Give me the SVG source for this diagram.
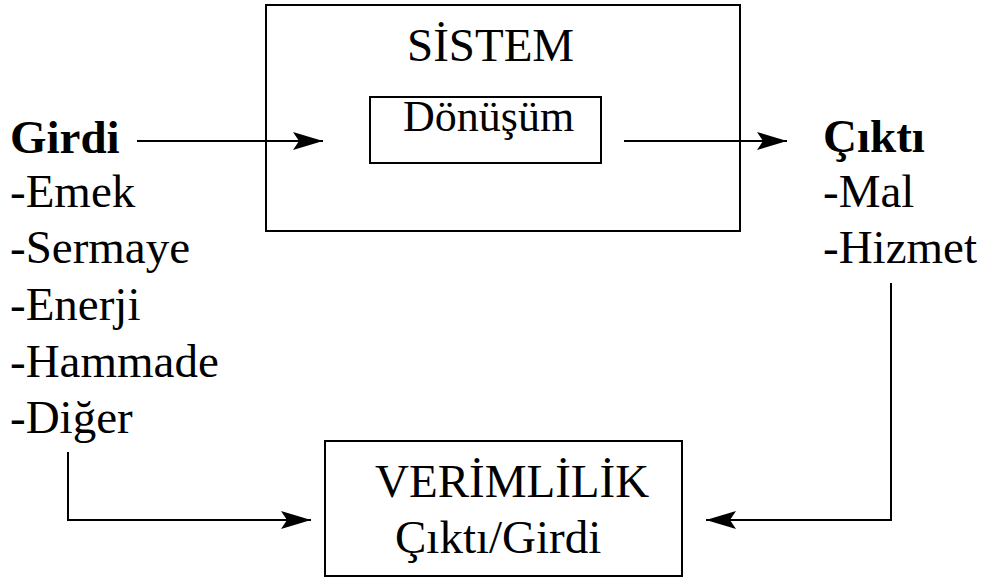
<svg xmlns="http://www.w3.org/2000/svg" width="981" height="582" viewBox="0 0 981 582">
<style>
.t{font-size:47px;fill:#000}
.b{font-weight:bold}
.box{fill:none;stroke:#000;stroke-width:2}
.ln{fill:none;stroke:#000;stroke-width:2}
</style>
<defs>
<marker id="ah" markerUnits="userSpaceOnUse" markerWidth="32" markerHeight="20" refX="30" refY="9" orient="auto">
<path d="M0,0 L30,9 L0,18 L6,9 Z" fill="#000"/>
</marker>
</defs>
<rect width="981" height="582" fill="#fff"/>
<g font-family="Liberation Serif, serif">
<g id="sistem">
<rect class="box" x="266" y="5" width="474" height="226"/>
<text class="t" x="407" y="61" font-family="Liberation Serif">SİSTEM</text>
</g>
<g id="donusum">
<rect class="box" x="370" y="97" width="231" height="66"/>
<text class="t" x="403" y="131" font-family="Liberation Serif" style="font-size:44px">Dönüşüm</text>
</g>
<g id="girdi">
<text class="t b" x="10" y="153" font-family="Liberation Serif">Girdi</text>
<text class="t" x="10" y="207" font-family="Liberation Serif">-Emek</text>
<text class="t" x="10" y="263" font-family="Liberation Serif">-Sermaye</text>
<text class="t" x="10" y="320" font-family="Liberation Serif">-Enerji</text>
<text class="t" x="10" y="377" font-family="Liberation Serif">-Hammade</text>
<text class="t" x="10" y="433" font-family="Liberation Serif">-Diğer</text>
</g>
<g id="cikti">
<text class="t b" x="823" y="152" font-family="Liberation Serif">Çıktı</text>
<text class="t" x="823" y="207" font-family="Liberation Serif">-Mal</text>
<text class="t" x="823" y="263" font-family="Liberation Serif">-Hizmet</text>
</g>
<g id="verimlilik">
<rect class="box" x="325" y="441" width="357" height="135"/>
<text class="t" x="375" y="497" font-family="Liberation Serif">VERİMLİLİK</text>
<text class="t" x="395" y="553" font-family="Liberation Serif">Çıktı/Girdi</text>
</g>
</g>
<g id="connectors">
<path class="ln" d="M137,141 H323" marker-end="url(#ah)"/>
<path class="ln" d="M624,141 H787" marker-end="url(#ah)"/>
<path class="ln" d="M68,452 V520 H311" marker-end="url(#ah)"/>
<path class="ln" d="M891,283 V520 H706" marker-end="url(#ah)"/>
</g>
</svg>
